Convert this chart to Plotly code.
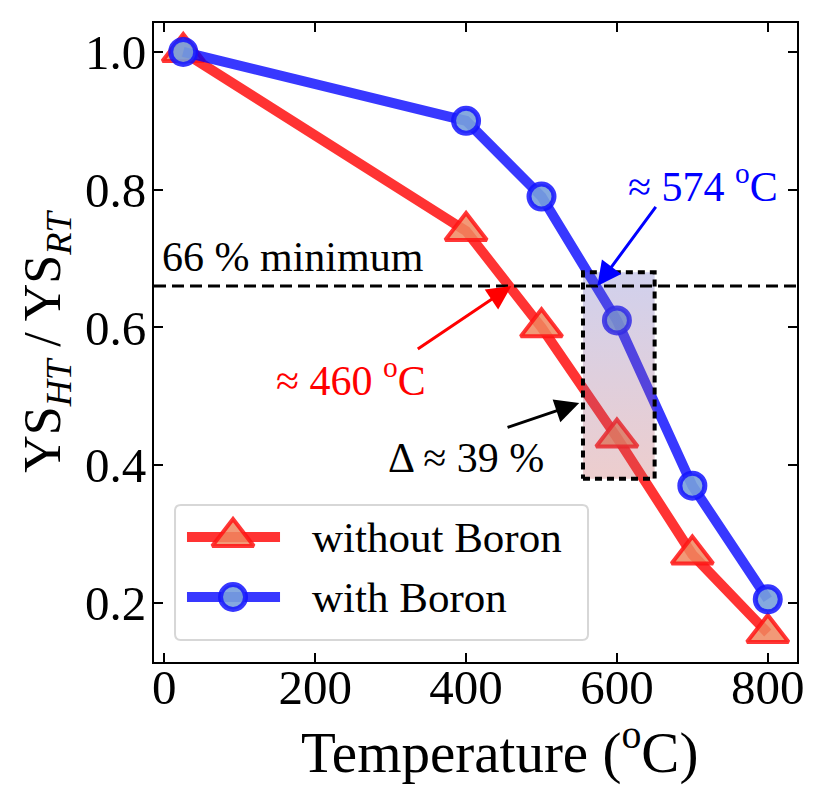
import plotly.graph_objects as go

# ---- data ----
temperature = [25, 400, 500, 600, 700, 800]
without_boron = [1.00, 0.74, 0.60, 0.44, 0.27, 0.156]
with_boron = [1.00, 0.90, 0.79, 0.61, 0.37, 0.205]
x_ticks = [0, 200, 400, 600, 800]
y_ticks = [0.2, 0.4, 0.6, 0.8, 1.0]
minimum_ratio = 0.66
t_without = 460
t_with = 574
delta_pct = 39
box_x = [555, 650]
box_y = [0.38, 0.68]

FONT = "Liberation Serif"
RED_LINE = "rgba(255,0,0,0.8)"
BLUE_LINE = "rgba(0,0,255,0.78)"
TRI_FILL = "rgba(240,135,95,0.85)"
CIR_FILL = "rgba(120,160,220,0.9)"
TRI_EDGE = "rgba(255,20,20,0.85)"
CIR_EDGE = "rgba(20,20,255,0.85)"

fig = go.Figure()

fig.add_trace(go.Scatter(
    x=temperature, y=without_boron, mode="lines+markers", name="without Boron",
    line=dict(color=RED_LINE, width=10),
    marker=dict(symbol="triangle-up", size=36, color=TRI_FILL,
                line=dict(color=TRI_EDGE, width=4)),
    showlegend=False,
))
fig.add_trace(go.Scatter(
    x=temperature, y=with_boron, mode="lines+markers", name="with Boron",
    line=dict(color=BLUE_LINE, width=10),
    marker=dict(symbol="circle", size=25, color=CIR_FILL,
                line=dict(color=CIR_EDGE, width=5)),
    showlegend=False,
))

# gradient box
bx = [box_x[0], box_x[1], box_x[1], box_x[0], box_x[0]]
by = [box_y[0], box_y[0], box_y[1], box_y[1], box_y[0]]
fig.add_trace(go.Scatter(
    x=bx, y=by, mode="lines", fill="toself",
    line=dict(color="black", width=4, dash="7px,5px"),
    fillgradient=dict(type="vertical",
                      colorscale=[[0, "rgba(100,100,195,0.3)"], [1, "rgba(195,90,90,0.3)"]],
                      start=box_y[1], stop=box_y[0]),
    showlegend=False, hoverinfo="skip",
))

# ---- custom legend (overlay axes in plot-fraction units) ----
leg_x0, leg_x1, leg_y0, leg_y1 = 0.0327, 0.675, 0.0344, 0.2457
r = 0.009
path = (f"M {leg_x0+r},{leg_y0} L {leg_x1-r},{leg_y0} Q {leg_x1},{leg_y0} {leg_x1},{leg_y0+r} "
        f"L {leg_x1},{leg_y1-r} Q {leg_x1},{leg_y1} {leg_x1-r},{leg_y1} "
        f"L {leg_x0+r},{leg_y1} Q {leg_x0},{leg_y1} {leg_x0},{leg_y1-r} "
        f"L {leg_x0},{leg_y0+r} Q {leg_x0},{leg_y0} {leg_x0+r},{leg_y0} Z")
fig.add_shape(type="path", path=path, xref="paper", yref="paper",
              line=dict(color="rgb(215,215,215)", width=2), fillcolor="white",
              layer="below")

rows = [
    ("without Boron", 0.1956, RED_LINE, "triangle-up", 36, TRI_FILL, TRI_EDGE, 4),
    ("with Boron", 0.1017, BLUE_LINE, "circle", 25, CIR_FILL, CIR_EDGE, 5),
]
for label, ry, lc, sym, sz, fc, mlc, mlw in rows:
    fig.add_trace(go.Scatter(
        x=[0.0513, 0.196], y=[ry, ry], mode="lines", xaxis="x2", yaxis="y2",
        line=dict(color=lc, width=10), showlegend=False, hoverinfo="skip"))
    fig.add_trace(go.Scatter(
        x=[0.1229], y=[ry], mode="markers", xaxis="x2", yaxis="y2",
        marker=dict(symbol=sym, size=sz, color=fc, line=dict(color=mlc, width=mlw)),
        showlegend=False, hoverinfo="skip"))
    fig.add_annotation(x=0.2426, y=ry, xref="paper", yref="paper", text=label,
                       showarrow=False, xanchor="left", yanchor="middle",
                       font=dict(family=FONT, size=43, color="black"))

# dashed minimum line
fig.add_shape(type="line", xref="paper", x0=0, x1=1, yref="y",
              y0=minimum_ratio, y1=minimum_ratio,
              line=dict(color="black", width=3, dash="12px,6px"), layer="above")

# annotations
fig.add_annotation(x=-6, y=minimum_ratio + 0.006, text=f"{int(minimum_ratio*100)} % minimum",
                   showarrow=False, xanchor="left", yanchor="bottom",
                   font=dict(family=FONT, size=42, color="black"))
fig.add_annotation(x=714, y=0.809, text=f"≈ {t_with} <sup>o</sup>C", showarrow=False,
                   font=dict(family=FONT, size=42, color="blue"))
fig.add_annotation(x=t_with, y=minimum_ratio, ax=653, ay=0.777, axref="x", ayref="y",
                   text="", showarrow=True, arrowhead=2, arrowsize=1.6, arrowwidth=3,
                   arrowcolor="blue")
fig.add_annotation(x=247, y=0.527, text=f"≈ {t_without} <sup>o</sup>C", showarrow=False,
                   font=dict(family=FONT, size=42, color="red"))
fig.add_annotation(x=t_without, y=minimum_ratio, ax=334, ay=0.567, axref="x", ayref="y",
                   text="", showarrow=True, arrowhead=2, arrowsize=1.6, arrowwidth=3,
                   arrowcolor="red")
fig.add_annotation(x=400, y=0.41, text=f"Δ ≈ {delta_pct} %", showarrow=False,
                   font=dict(family=FONT, size=42, color="black"))
fig.add_annotation(x=550, y=0.49, ax=453, ay=0.454, axref="x", ayref="y",
                   text="", showarrow=True, arrowhead=2, arrowsize=1.6, arrowwidth=3,
                   arrowcolor="black")

# x-axis title
fig.add_annotation(x=0.538, y=-0.136, xref="paper", yref="paper",
                   text="Temperature (<sup>o</sup>C)", showarrow=False,
                   xanchor="center", yanchor="middle",
                   font=dict(family=FONT, size=57, color="black"))

axis_common = dict(
    showline=True, linecolor="black", linewidth=2, mirror="allticks",
    ticks="inside", ticklen=9, tickwidth=2, tickcolor="black",
    showgrid=False, zeroline=False, automargin=False,
    tickfont=dict(family=FONT, size=49, color="black"),
)

fig.update_layout(
    width=813, height=788,
    margin=dict(l=146, r=24, t=15, b=134),
    paper_bgcolor="white", plot_bgcolor="white",
    showlegend=False,
    xaxis=dict(range=[-13.75, 838.75], tickvals=x_ticks, ticktext=[str(v) for v in x_ticks],
               ticklabelstandoff=-19, **axis_common),
    yaxis=dict(range=[0.114, 1.042], tickvals=y_ticks, ticktext=[f"{v:.1f}" for v in y_ticks],
               ticklabelstandoff=-4,
               title=dict(text="YS<sub><i>HT</i></sub> / YS<sub><i>RT</i></sub>", standoff=8,
                          font=dict(family=FONT, size=52, color="black")),
               **axis_common),
    xaxis2=dict(overlaying="x", anchor="y2", range=[0, 1], visible=False),
    yaxis2=dict(overlaying="y", anchor="x2", range=[0, 1], visible=False),
)

fig.write_html("out.html")
